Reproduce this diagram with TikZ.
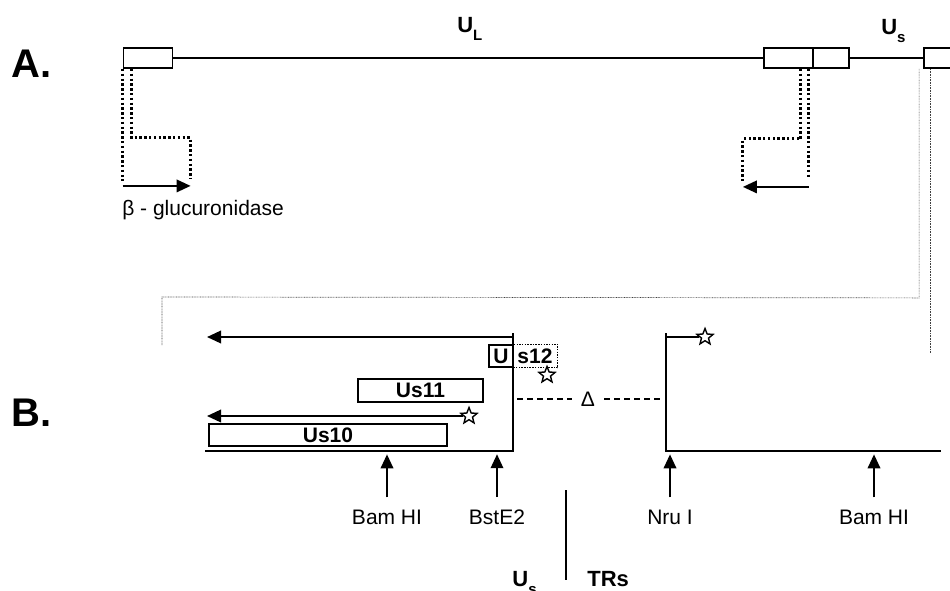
\documentclass[tikz,border=0pt]{standalone}
\usepackage{fontspec}
\setmainfont{Liberation Sans}
\usetikzlibrary{arrows.meta,shapes.geometric}

\begin{document}
\begin{tikzpicture}[x=1pt, y=-1pt, line width=2pt,
    gene/.style={draw, line width=1.8pt, minimum height=20pt, inner sep=0pt},
    orf/.style={draw, line width=1.6pt, minimum height=22pt, inner sep=0pt,
      font=\fontsize{21}{22}\selectfont\bfseries},
    prom/.style={line width=3pt, dash pattern=on 2.4pt off 2.4pt},
    proj/.style={line width=0.7pt, black!75, dash pattern=on 0.8pt off 0.8pt},
    tip/.style={-{Triangle[length=14pt,width=12.5pt]}},
    site/.style={font=\fontsize{21}{22}\selectfont},
    region/.style={font=\fontsize{22}{24}\selectfont\bfseries},
    panel/.style={font=\fontsize{40}{40}\selectfont\bfseries},
    starnode/.style={star, star points=5, star point ratio=2.3, draw, line width=1.4pt,
      minimum size=17pt, inner sep=0pt}]
  \useasboundingbox (0,0) rectangle (950,590);
  \def\sub#1{\raisebox{-0.4em}{\fontsize{15}{15}\selectfont #1}}

  \node[panel] (labA) at (32,64) {A.};
  \node[panel] (labB) at (32,413) {B.};

  \node[gene, minimum width=49pt] (boxL) at (148,58) {};
  \node[gene, minimum width=49pt] (boxM1) at (788.5,58) {};
  \node[gene, minimum width=36pt] (boxM2) at (831,58) {};
  \node[gene, minimum width=52pt] (boxR) at (950,58) {};
  \draw (boxL.east) -- (boxM1.west);
  \draw (boxM2.east) -- (boxR.west);
  \node[region, anchor=base west] (ul) at (453,32) {U\sub{L}};
  \node[region, anchor=base west] (us) at (877,34) {U\sub{s}};

  \draw[prom] (boxL.south west) -- ++(0,112);
  \draw[prom] (boxL.south west) ++(9,0) -- ++(0,69) -- ++(59,0) -- ++(0,41);
  \draw[tip] (boxL.south west) ++(0,117) -- ++(68,0);
  \node[site, anchor=west] (gus) at (118,210) {β - glucuronidase};

  \draw[prom] (boxM1.south east) ++(-5,0) -- ++(0,109);
  \draw[prom] (boxM1.south east) ++(-13,0) -- ++(0,70) -- ++(-58,0) -- ++(0,42);
  \draw[tip] (boxM1.south east) ++(-5,118) -- ++(-66,0);

  \draw[proj] (boxR.south west) ++(-4,0) -- ++(0,229) -- (162,297) -- ++(0,48);
  \draw[proj] (boxR.south west) ++(7,0) -- ++(0,284);

  \coordinate (endL) at (513,451);
  \draw (205,451) -- (endL) -- ++(0,-118);
  \draw[tip] (endL) ++(0,-114) -- (207,337);
  \node[orf, minimum width=24pt] (u12a) at (501,356) {U};
  \node[orf, minimum width=44pt, draw=none] (u12b) at (535,356) {s12};
  \draw[line width=1.3pt, dash pattern=on 1.5pt off 1.2pt] (u12a.north east) -| (u12b.south east) -- (u12a.south east);
  \node[starnode] (st12) at (547,375) {};
  \node[orf, minimum width=125pt, minimum height=23pt] (u11) at (420.5,390.5) {Us11};
  \node[orf, minimum width=238pt] (u10) at (328,435) {Us10};
  \node[starnode] (st11) at (469,416) {};
  \draw[tip] (st11.west) -- (207,416);

  \node[site, inner sep=8pt] (delta) at (588,399) {Δ};
  \draw[line width=1.1pt, dash pattern=on 6pt off 4pt] (517,399) -- (delta.west);
  \draw[line width=1.1pt, dash pattern=on 6pt off 4pt] (delta.east) -- (660,399);

  \coordinate (endR) at (666,451);
  \draw (666,333) -- (endR) -- (941,451);
  \node[starnode] (stR) at (705,337) {};
  \draw (666,337) -- (stR.west);

  \foreach \x/\nm/\lab in {387/bamA/Bam HI, 497/bst/BstE2, 670/nru/Nru I, 874/bamB/Bam HI} {
    \node[site] (\nm) at (\x,517) {\lab};
    \draw[tip] (\nm.north) ++(0,-8) -- ++(0,-43);
  }

  \coordinate (divtop) at (566,490);
  \draw[line width=1.3pt] (divtop) -- ++(0,90);
  \node[region, anchor=base east] (uss) at (541,586) {U\sub{s}};
  \node[region, anchor=base west] (trs) at (583,586) {TRs};
\end{tikzpicture}
\end{document}
